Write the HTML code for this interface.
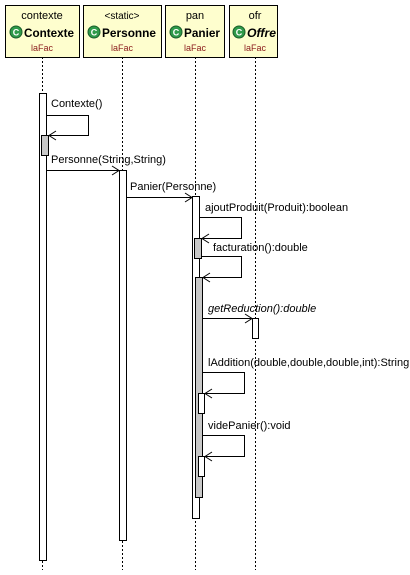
<!DOCTYPE html>
<html><head><style>
body{margin:0;background:#fff;}
svg text{font-family:"Liberation Sans",sans-serif;fill:#000;}
</style></head><body>
<svg width="410" height="570" xmlns="http://www.w3.org/2000/svg" font-size="11">
<g stroke="#000" stroke-dasharray="2,2" stroke-width="1">
<line x1="42.5" y1="57" x2="42.5" y2="570"/>
<line x1="122.5" y1="57" x2="122.5" y2="570"/>
<line x1="195.5" y1="57" x2="195.5" y2="570"/>
<line x1="255.5" y1="57" x2="255.5" y2="570"/>
</g>
<g fill="#fefece" stroke="#000" stroke-width="1">
<rect x="5.5" y="5.5" width="74" height="52"/>
<rect x="83.5" y="5.5" width="78" height="52"/>
<rect x="165.5" y="5.5" width="59" height="52"/>
<rect x="229.5" y="5.5" width="48" height="52"/>
</g>
<g text-anchor="middle">
<text x="42" y="19" style="font-size:11px">contexte</text>
<text x="122" y="19" style="font-size:10px">&lt;static&gt;</text>
<text x="195" y="19" style="font-size:11px">pan</text>
<text x="255" y="19" style="font-size:11px">ofr</text>
</g>
<g fill="#2f9a4a" stroke="#1a5e2a">
<circle cx="16" cy="32" r="6"/><circle cx="94" cy="32" r="6"/><circle cx="176" cy="32" r="6"/><circle cx="239" cy="32" r="6"/>
</g>
<g text-anchor="middle">
<text x="16" y="35.5" style="fill:#fff;font-size:9px;font-weight:bold">C</text><text x="94" y="35.5" style="fill:#fff;font-size:9px;font-weight:bold">C</text><text x="176" y="35.5" style="fill:#fff;font-size:9px;font-weight:bold">C</text><text x="239" y="35.5" style="fill:#fff;font-size:9px;font-weight:bold">C</text>
</g>
<text x="24" y="37" textLength="50" lengthAdjust="spacingAndGlyphs" style="font-size:12px;font-weight:bold">Contexte</text>
<text x="102" y="37" textLength="54" lengthAdjust="spacingAndGlyphs" style="font-size:12px;font-weight:bold">Personne</text>
<text x="184" y="37" textLength="36" lengthAdjust="spacingAndGlyphs" style="font-size:12px;font-weight:bold">Panier</text>
<text x="247" y="37" textLength="29" lengthAdjust="spacingAndGlyphs" style="font-size:12px;font-weight:bold;font-style:italic">Offre</text>
<g text-anchor="middle">
<text x="42" y="51" style="font-size:9px;fill:#8a1a1a">laFac</text>
<text x="122" y="51" style="font-size:9px;fill:#8a1a1a">laFac</text>
<text x="195" y="51" style="font-size:9px;fill:#8a1a1a">laFac</text>
<text x="255" y="51" style="font-size:9px;fill:#8a1a1a">laFac</text>
</g>
<g stroke="#000" stroke-width="1">
<rect x="39.5" y="93.5" width="7" height="467" fill="#fff"/>
<rect x="41.5" y="135.5" width="7" height="20" fill="#c8c8c8"/>
<rect x="119.5" y="170.5" width="7" height="370" fill="#fff"/>
<rect x="192.5" y="196.5" width="7" height="322" fill="#fff"/>
<rect x="194.5" y="238.5" width="7" height="20" fill="#c8c8c8"/>
<rect x="195.5" y="277.5" width="7" height="220" fill="#c8c8c8"/>
<rect x="252.5" y="318.5" width="6" height="20" fill="#fff"/>
<rect x="198.5" y="393.5" width="6" height="20" fill="#fff"/>
<rect x="198.5" y="456.5" width="6" height="20" fill="#fff"/>
</g>
<g stroke="#000" stroke-width="1" fill="none">
<polyline points="46,115.5 88.5,115.5 88.5,135.5 49,135.5"/><polyline points="56,131 49,135.5 56,140"/>
<line x1="46" y1="170.5" x2="119" y2="170.5"/><polyline points="112,166 119,170.5 112,175"/>
<line x1="126" y1="197.5" x2="192" y2="197.5"/><polyline points="185,193 192,197.5 185,202"/>
<polyline points="199,217.5 241.5,217.5 241.5,238.5 202,238.5"/><polyline points="209,234 202,238.5 209,243"/>
<polyline points="201,256.5 241.5,256.5 241.5,277.5 203,277.5"/><polyline points="210,273 203,277.5 210,282"/>
<line x1="203" y1="318.5" x2="252" y2="318.5"/><polyline points="245,314 252,318.5 245,323"/>
<polyline points="203,372.5 244.5,372.5 244.5,393.5 205,393.5"/><polyline points="212,389 205,393.5 212,398"/>
<polyline points="203,435.5 244.5,435.5 244.5,456.5 205,456.5"/><polyline points="212,452 205,456.5 212,461"/>
</g>
<text x="51" y="107">Contexte()</text>
<text x="51" y="163">Personne(String,String)</text>
<text x="130" y="190">Panier(Personne)</text>
<text x="205" y="211">ajoutProduit(Produit):boolean</text>
<text x="213" y="251">facturation():double</text>
<text x="208" y="312" style="font-style:italic">getReduction():double</text>
<text x="208" y="366">lAddition(double,double,double,int):String</text>
<text x="208" y="429">videPanier():void</text>
</svg>
</body></html>
